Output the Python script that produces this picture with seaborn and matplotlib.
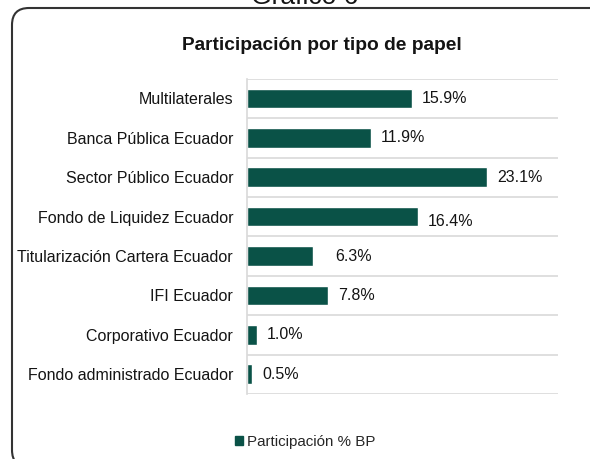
import matplotlib
matplotlib.use("Agg")
import matplotlib.pyplot as plt
import matplotlib.patches as mpatches
from matplotlib.transforms import IdentityTransform
import seaborn as sns
import pandas as pd

categories = [
    "Multilaterales",
    "Banca Pública Ecuador",
    "Sector Público Ecuador",
    "Fondo de Liquidez Ecuador",
    "Titularización Cartera Ecuador",
    "IFI Ecuador",
    "Corporativo Ecuador",
    "Fondo administrado Ecuador",
]
values = [15.9, 11.9, 23.1, 16.4, 6.3, 7.8, 1.0, 0.5]
series_name = "Participación % BP"
title = "Participación por tipo de papel"
header = "Gráfico 6"

# manual nudges of some data labels (points), as in the original chart
label_nudge = {3: (7, -3.5), 4: (16, 0)}

BAR = "#0A5247"
GRID = "#D9D9D9"
TXT = "#141414"

sns.set_theme(style="white")
plt.rcParams["font.family"] = ["Liberation Sans", "DejaVu Sans"]

df = pd.DataFrame({"cat": categories, "val": values})

fig = plt.figure(figsize=(5.9, 4.59), dpi=100)
ax = fig.add_axes([247 / 590, 1 - 394 / 459, (557.5 - 247) / 590, (394 - 78.7) / 459])

sns.barplot(data=df, y="cat", x="val", orient="h", color=BAR, width=0.5,
            saturation=1, ax=ax)

ax.set_xlim(0, 29.85)
ax.set_ylim(len(categories) - 0.5, -0.5)
for b in range(len(categories) + 1):
    ax.axhline(b - 0.5, color=GRID, lw=1.2, zorder=0)
for s in ["top", "right", "bottom"]:
    ax.spines[s].set_visible(False)
ax.spines["left"].set_color(GRID)
ax.spines["left"].set_linewidth(1.2)
ax.set_xticks([])
ax.set_xlabel("")
ax.set_ylabel("")
ax.tick_params(axis="y", length=0, pad=10, labelsize=11.5, labelcolor=TXT)

for i, v in enumerate(values):
    off = label_nudge.get(i, (7, 0))
    ax.annotate(f"{v:.1f}%", xy=(v, i), xytext=off, textcoords="offset points",
                ha="left", va="center", fontsize=11.5, color=TXT)

fig.text(322 / 590, 1 - 45.5 / 459, title, ha="center", va="center",
         fontsize=13.8, fontweight="bold", color=TXT)
fig.text(305 / 590, 1 - 4 / 459, header, ha="center", va="baseline",
         fontsize=19, color=TXT)

handle = mpatches.Patch(color=BAR)
fig.legend(handles=[handle], labels=[series_name], loc="center",
           bbox_to_anchor=(305 / 590, 1 - 442 / 459), frameon=False,
           handlelength=0.55, handleheight=0.55, handletextpad=0.25,
           fontsize=10.9)

border = mpatches.FancyBboxPatch((12, -8), 600, 459,
                                 boxstyle="round,pad=0,rounding_size=17",
                                 transform=IdentityTransform(), fill=False,
                                 edgecolor="#333333", linewidth=1.5)
fig.patches.append(border)

fig.savefig("out.png", dpi=100)
